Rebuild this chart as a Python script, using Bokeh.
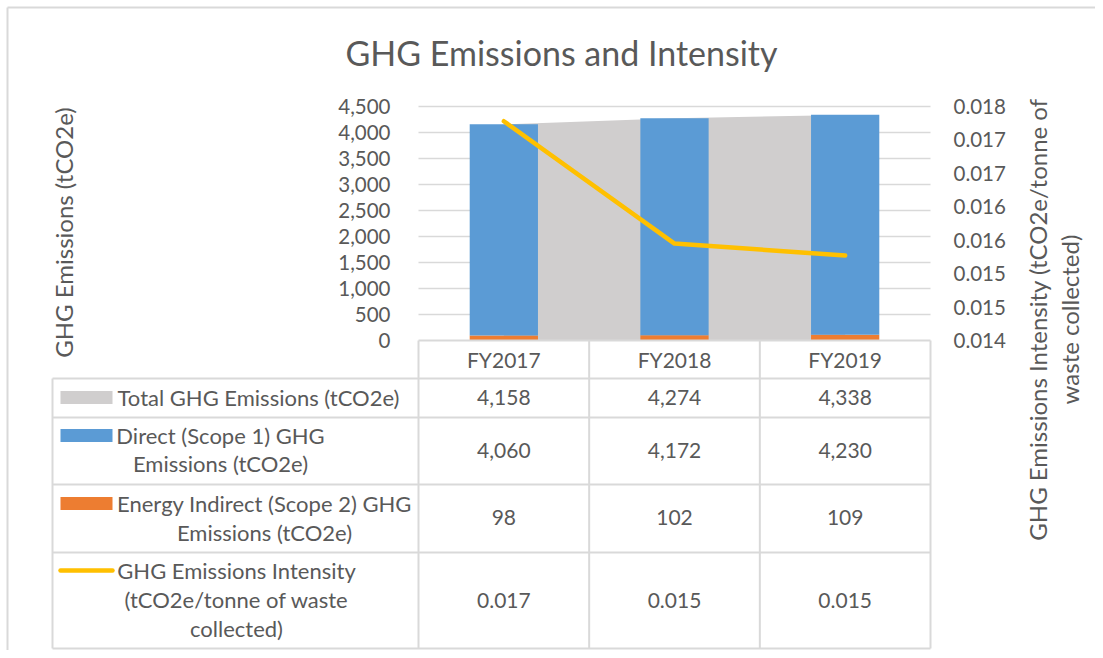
import math
from bokeh.plotting import figure
from bokeh.models import Range1d, LinearAxis, FixedTicker, NumeralTickFormatter, ColumnDataSource
from bokeh.core.properties import value
from bokeh.embed import file_html
from bokeh.resources import INLINE

# ---------------- data ----------------
categories = ["FY2017", "FY2018", "FY2019"]
total = [4158, 4274, 4338]
direct = [4060, 4172, 4230]
indirect = [98, 102, 109]
intensity = [0.01778, 0.01595, 0.01577]
intensity_labels = ["0.017", "0.015", "0.015"]
left_ticks = [0, 500, 1000, 1500, 2000, 2500, 3000, 3500, 4000, 4500]
right_ticks = [0.0145, 0.015, 0.0155, 0.016, 0.0165, 0.017, 0.0175, 0.018]
right_tick_labels = ["0.014", "0.015", "0.015", "0.016", "0.016", "0.017", "0.017", "0.018"]
series_names = [
    ["Total GHG Emissions (tCO2e)"],
    ["Direct (Scope 1) GHG", "Emissions (tCO2e)"],
    ["Energy Indirect (Scope 2) GHG", "Emissions (tCO2e)"],
    ["GHG Emissions Intensity", "(tCO2e/tonne of waste", "collected)"],
]
title_text = "GHG Emissions and Intensity"
left_title = "GHG Emissions (tCO2e)"
right_title = ["GHG Emissions Intensity (tCO2e/tonne of", "waste collected)"]

# ---------------- style / layout ----------------
FONT = "Lato"
TXT = "#595959"
GRID = "#d9d9d9"
C_TOTAL = "#D0CECE"
C_DIRECT = "#5B9BD5"
C_INDIRECT = "#ED7D31"
C_INT = "#FFC000"

W, H = 1095, 650
OX, OY = 0, 0
PL, PR = 418, 930
PT, PB = 106, 340
n = len(categories)
cw = (PR - PL) / n
ymax, imin, imax = left_ticks[-1], right_ticks[0], right_ticks[-1]
ypp = ymax / (PB - PT)
ipp = (imax - imin) / (PB - PT)

p = figure(width=W, height=H,
           x_range=Range1d((OX - PL) / cw, (OX + W - PL) / cw),
           y_range=Range1d(-(OY + H - PB) * ypp, (PB - OY) * ypp),
           min_border=0, toolbar_location=None, output_backend="svg",
           x_axis_location=None, y_axis_location=None,
           outline_line_color=None)
p.extra_x_ranges = {"px": Range1d(OX, OX + W)}
p.extra_y_ranges = {"py": Range1d(OY + H, OY),
                    "int": Range1d(imin - (OY + H - PB) * ipp, imin + (PB - OY) * ipp)}
for g in p.grid:
    g.visible = False

xc = [i + 0.5 for i in range(n)]

# chart border (left / top)
p.segment(x0=[7, 7], x1=[7, W], y0=[7, 7], y1=[H, 7], line_color=GRID, line_width=2,
          x_range_name="px", y_range_name="py")

# gridlines
gt = left_ticks[1:]
p.segment(x0=[0] * len(gt), x1=[n] * len(gt), y0=gt, y1=gt, line_color=GRID, line_width=1.5)

# total area, stacked bars, intensity line
p.varea(x=xc, y1=[0] * n, y2=total, fill_color=C_TOTAL)
src = ColumnDataSource(dict(x=xc, indirect=indirect, direct=direct))
p.vbar_stack(["indirect", "direct"], x="x", width=0.4, color=[C_INDIRECT, C_DIRECT],
             line_color=None, source=src)
p.line(xc, intensity, y_range_name="int", line_color=C_INT, line_width=4.5,
       line_cap="round", line_join="round")

axkw = dict(axis_line_color=None, major_tick_line_color=None, minor_tick_line_color=None,
            major_tick_out=0, major_tick_in=0,
            major_label_text_font=FONT, major_label_text_font_size="20.5px",
            major_label_text_color=TXT)
ly = LinearAxis(fixed_location=0, ticker=FixedTicker(ticks=left_ticks),
                formatter=NumeralTickFormatter(format="0,0"), major_label_standoff=28, **axkw)
p.add_layout(ly, "left")
ry = LinearAxis(fixed_location=n, y_range_name="int", ticker=FixedTicker(ticks=right_ticks),
                major_label_overrides={t: l for t, l in zip(right_ticks, right_tick_labels)},
                major_label_standoff=23, **axkw)
p.add_layout(ry, "right")

tkw = dict(text_font=value(FONT), text_color=TXT, text_align="center", text_baseline="middle")

# titles
p.text(x=[561], y=[52], text=[title_text], x_range_name="px", y_range_name="py",
       text_font_size="34px", **tkw)
p.text(x=[63], y=[232], text=[left_title], angle=math.pi / 2, x_range_name="px",
       y_range_name="py", text_font_size="24px", **tkw)
p.text(x=[1037, 1069], y=[319, 319], text=right_title, angle=math.pi / 2, x_range_name="px",
       y_range_name="py", text_font_size="24px", **tkw)

# ---------------- data table ----------------
TL = 52
row_lines = [378, 417, 484, 552, 648]
lkw = dict(line_color=GRID, line_width=2, x_range_name="px", y_range_name="py")
p.segment(x0=[PL], x1=[PR], y0=[PB], y1=[PB], **lkw)
p.segment(x0=[TL] * len(row_lines), x1=[PR] * len(row_lines), y0=row_lines, y1=row_lines, **lkw)
p.segment(x0=[TL], x1=[TL], y0=[row_lines[0]], y1=[row_lines[-1]], **lkw)
colx = [i for i in range(n + 1)]
p.segment(x0=colx, x1=colx, y0=[PB] * (n + 1), y1=[row_lines[-1]] * (n + 1),
          line_color=GRID, line_width=2, y_range_name="py")

# header
p.text(x=xc, y=[359] * n, text=categories, y_range_name="py", text_font_size="21px", **tkw)
# values
row_y = [397, 450, 517, 600]
rows = [[f"{v:,}" for v in total], [f"{v:,}" for v in direct],
        [f"{v:,}" for v in indirect], intensity_labels]
for ry_, vals in zip(row_y, rows):
    p.text(x=xc, y=[ry_] * n, text=vals, y_range_name="py", text_font_size="21px", **tkw)

# series labels
label_cx = [258, 220, 264, 236]
label_y = [[397], [435, 463], [503, 532], [570, 599, 628]]
for cx, ys, lines in zip(label_cx, label_y, series_names):
    p.text(x=[cx] * len(lines), y=ys, text=lines, x_range_name="px", y_range_name="py",
           text_font_size="22px", **tkw)

# legend keys
key_colors = [C_TOTAL, C_DIRECT, C_INDIRECT]
key_y = [397, 435, 503]
p.quad(left=[60] * 3, right=[112] * 3, top=[y - 6.5 for y in key_y],
       bottom=[y + 6.5 for y in key_y], fill_color=key_colors, line_color=None,
       x_range_name="px", y_range_name="py")
p.line(x=[60, 112], y=[570, 570], line_color=C_INT, line_width=4.5, line_cap="round",
       x_range_name="px", y_range_name="py")

open("out.html", "w").write(file_html(p, INLINE))
